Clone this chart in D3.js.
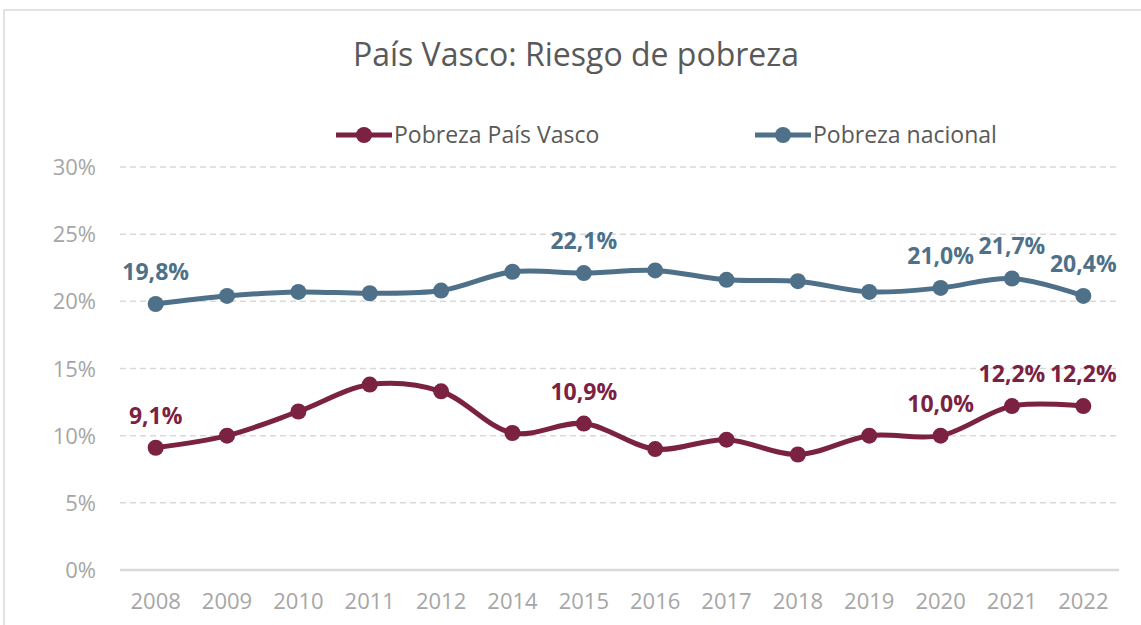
<!DOCTYPE html>
<html>
<head>
<meta charset="utf-8">
<script src="https://d3js.org/d3.v7.min.js"></script>
<style>
  body { margin: 0; background: #fff; font-family: "Open Sans", sans-serif; }
  .grid line { stroke: #d9d9d9; stroke-width: 1.5; stroke-dasharray: 6 4; }
  .tick-label { fill: #a6a6a6; font-size: 22px; }
</style>
</head>
<body>
<script>
// data
var years = ["2008", "2009", "2010", "2011", "2012", "2014", "2015", "2016", "2017", "2018", "2019", "2020", "2021", "2022"];
var vasco = [9.1, 10.0, 11.8, 13.8, 13.3, 10.2, 10.9, 9.0, 9.7, 8.6, 10.0, 10.0, 12.2, 12.2];
var nacional = [19.8, 20.4, 20.7, 20.6, 20.8, 22.2, 22.1, 22.3, 21.6, 21.5, 20.7, 21.0, 21.7, 20.4];
var labelledYears = ["2008", "2015", "2020", "2021", "2022"];
var yTicks = [0, 5, 10, 15, 20, 25, 30];

var W = 1141, H = 625;
var plotLeft = 120, plotRight = 1119, plotTop = 167, plotBottom = 570;

var series = [
  { name: "Pobreza País Vasco", values: vasco, color: "#7b2142" },
  { name: "Pobreza nacional", values: nacional, color: "#4e7189" }
];

var svg = d3.select("body").append("svg")
  .attr("width", W)
  .attr("height", H);

// outer frame of the chart
svg.append("rect")
  .attr("x", 4).attr("y", 10)
  .attr("width", W + 10).attr("height", H)
  .attr("fill", "#fff")
  .attr("stroke", "#d9d9d9")
  .attr("stroke-width", 1.5);

var x = d3.scaleBand().domain(years).range([plotLeft, plotRight]);
var y = d3.scaleLinear().domain([0, 30]).range([plotBottom, plotTop]);
var cx = function(yr) { return x(yr) + x.bandwidth() / 2; };

// title
svg.append("text")
  .attr("x", 576).attr("y", 66)
  .attr("text-anchor", "middle")
  .attr("fill", "#595959")
  .attr("font-size", "32px")
  .text("País Vasco: Riesgo de pobreza");

// gridlines (dashed) and y labels
var grid = svg.append("g").attr("class", "grid");
grid.selectAll("line")
  .data(yTicks.filter(function(d) { return d > 0; }))
  .enter().append("line")
  .attr("x1", plotLeft).attr("x2", plotRight)
  .attr("y1", function(d) { return y(d); })
  .attr("y2", function(d) { return y(d); });

svg.append("line")
  .attr("x1", plotLeft).attr("x2", plotRight)
  .attr("y1", y(0)).attr("y2", y(0))
  .attr("stroke", "#d9d9d9")
  .attr("stroke-width", 2.5);

svg.append("g").selectAll("text")
  .data(yTicks)
  .enter().append("text")
  .attr("class", "tick-label")
  .attr("x", 96)
  .attr("y", function(d) { return y(d) + 8; })
  .attr("text-anchor", "end")
  .text(function(d) { return d + "%"; });

svg.append("g").selectAll("text")
  .data(years)
  .enter().append("text")
  .attr("class", "tick-label")
  .attr("x", function(d) { return cx(d); })
  .attr("y", 609)
  .attr("text-anchor", "middle")
  .text(function(d) { return d; });

// lines, markers, labels
var line = d3.line()
  .x(function(d, i) { return cx(years[i]); })
  .y(function(d) { return y(d); })
  .curve(d3.curveCatmullRom.alpha(0.5));

series.forEach(function(s) {
  var g = svg.append("g");
  g.append("path")
    .attr("d", line(s.values))
    .attr("fill", "none")
    .attr("stroke", s.color)
    .attr("stroke-width", 5);
  g.selectAll("circle")
    .data(s.values)
    .enter().append("circle")
    .attr("cx", function(d, i) { return cx(years[i]); })
    .attr("cy", function(d) { return y(d); })
    .attr("r", 8)
    .attr("fill", s.color);
  g.selectAll("text")
    .data(s.values.map(function(v, i) { return { yr: years[i], v: v }; })
      .filter(function(d) { return labelledYears.indexOf(d.yr) >= 0; }))
    .enter().append("text")
    .attr("x", function(d) { return cx(d.yr); })
    .attr("y", function(d) { return y(d.v) - 24; })
    .attr("text-anchor", "middle")
    .attr("fill", s.color)
    .attr("font-weight", "bold")
    .attr("font-size", "23px")
    .text(function(d) { return d.v.toFixed(1).replace(".", ",") + "%"; });
});

// legend
var legendX = [336, 755];
series.forEach(function(s, i) {
  var g = svg.append("g").attr("transform", "translate(" + legendX[i] + ",135)");
  g.append("line")
    .attr("x1", 0).attr("x2", 56)
    .attr("stroke", s.color).attr("stroke-width", 5);
  g.append("circle").attr("cx", 28).attr("r", 8).attr("fill", s.color);
  g.append("text")
    .attr("x", 58).attr("y", 8)
    .attr("fill", "#595959")
    .attr("font-size", "23px")
    .text(s.name);
});
</script>
</body>
</html>
